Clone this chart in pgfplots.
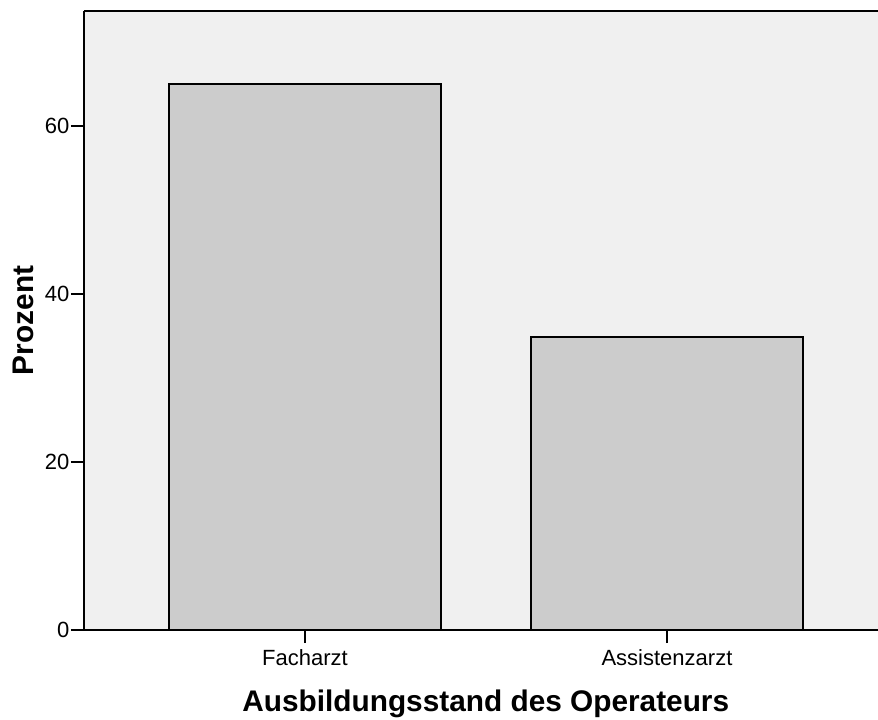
\documentclass[border=0pt]{standalone}
\usepackage{fontspec}
\setmainfont{Liberation Sans}
\usepackage{pgfplots}
\pgfplotsset{compat=1.18}
\definecolor{bg}{HTML}{F0F0F0}
\definecolor{barc}{HTML}{CCCCCC}
\begin{document}
\begin{tikzpicture}
\begin{axis}[
  scale only axis, width=397pt, height=309.5pt,
  xmin=-0.6105, xmax=1.583, ymin=0, ymax=73.7,
  axis x line*=box, axis y line*=left,
  axis line style={black, line width=0.8pt},
  axis background/.style={fill=bg},
  xtick={0,1}, xticklabels={Facharzt,Assistenzarzt},
  ytick={0,20,40,60},
  xtick pos=bottom, ytick pos=left,
  tick align=outside, major tick length=6.5pt,
  tick style={black, line width=0.8pt},
  minor tick num=0,
  /pgf/number format/assume math mode=true,
  tick label style={font=\fontsize{11}{13}\selectfont},
  yticklabel style={inner xsep=0.6pt},
  xticklabel style={inner ysep=3pt},
  xlabel={Ausbildungsstand des Operateurs},
  ylabel={Prozent},
  label style={font=\fontsize{14.9}{18}\selectfont\bfseries},
  xlabel style={at={(axis description cs:0.506,0)}, anchor=base, yshift=-40.5pt},
  ylabel style={at={(axis description cs:-0.063,0.5)}, anchor=base},
  ybar, bar width=0.75,
]
\addplot[fill=barc, draw=black, line width=0.8pt] coordinates {(0,65.0) (1,34.9)};
\coordinate (SW) at (rel axis cs:0,0);
\coordinate (NE) at (rel axis cs:1,1);
\end{axis}
\pgfresetboundingbox
\path[use as bounding box] ([xshift=-42pt,yshift=-44.5pt]SW) rectangle ([yshift=5.5pt]NE);
\end{tikzpicture}
\end{document}
